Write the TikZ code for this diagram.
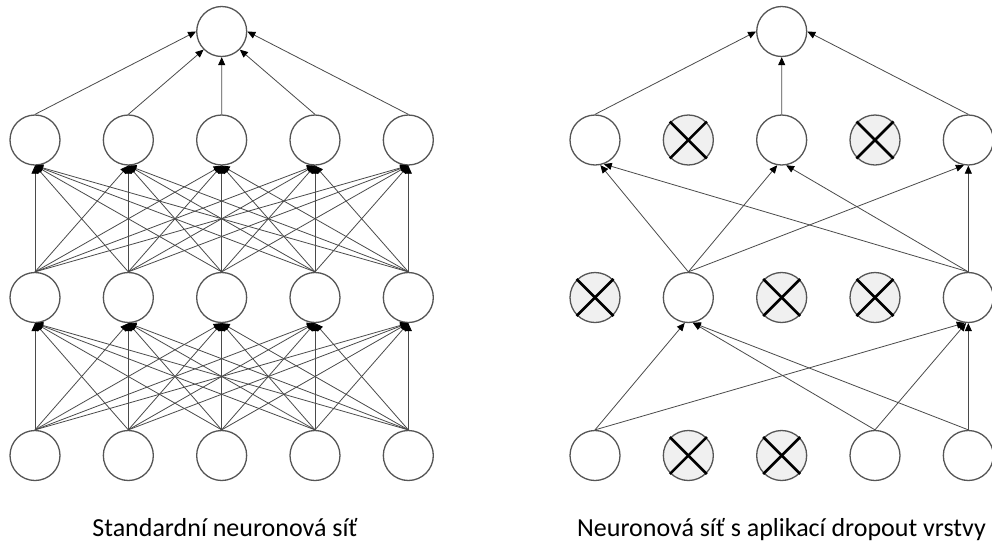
\documentclass[tikz,border=0pt]{standalone}
\usepackage{fontspec}
\setmainfont{Carlito}
\usetikzlibrary{arrows.meta}
\definecolor{edgegray}{HTML}{4A4A4A}
\definecolor{ringgray}{HTML}{555555}
\definecolor{dropfill}{HTML}{F0F0F0}
\tikzset{
  neuron/.style={circle, draw=ringgray, line width=1.3pt, fill=white, minimum size=50pt, inner sep=0pt},
  dropped/.style={neuron, fill=dropfill},
  conn/.style={draw=edgegray, line width=0.8pt, -{Triangle[length=8pt,width=7pt,color=black]}},
  cross/.style={black, line width=2.6pt},
  caption/.style={anchor=base, font=\fontsize{26}{30}\selectfont, inner sep=0pt}
}
\begin{document}
\begin{tikzpicture}[x=1pt,y=-1pt]
\useasboundingbox (0,0) rectangle (992,544);
% ---------- left network ----------
\node[neuron] (Lo) at (221.7,31.5) {};
\foreach \i in {1,...,5}{
  \pgfmathsetmacro{\cx}{35+93.33*(\i-1)}
  \node[neuron] (Lh2-\i) at (\cx,140) {};
  \node[neuron] (Lh1-\i) at (\cx,297.5) {};
  \node[neuron] (Li-\i) at (\cx,455.5) {};
}
\foreach \i in {1,...,5}{
  \foreach \j in {1,...,5}{
    \draw[conn] (Li-\i.north) -- (Lh1-\j.south);
    \draw[conn] (Lh1-\i.north) -- (Lh2-\j.south);
  }
}
\draw[conn] (Lh2-1.north) -- (Lo.west);
\draw[conn] (Lh2-2.north) -- (Lo.south west);
\draw[conn] (Lh2-3.north) -- (Lo.south);
\draw[conn] (Lh2-4.north) -- (Lo.south east);
\draw[conn] (Lh2-5.north) -- (Lo.east);
% ---------- right network ----------
\node[neuron] (Ro) at (781.7,31.5) {};
\foreach \i/\sa/\sb/\sc in {1/neuron/dropped/neuron, 2/dropped/neuron/dropped, 3/neuron/dropped/dropped, 4/dropped/dropped/neuron, 5/neuron/neuron/neuron}{
  \pgfmathsetmacro{\cx}{595+93.33*(\i-1)}
  \node[\sa] (Rh2-\i) at (\cx,140) {};
  \node[\sb] (Rh1-\i) at (\cx,297.5) {};
  \node[\sc] (Ri-\i) at (\cx,455.5) {};
}
% crosses on dropped neurons
\foreach \n in {Rh2-2,Rh2-4,Rh1-1,Rh1-3,Rh1-4,Ri-2,Ri-3}{
  \draw[cross] ([shift={(-18.5,-18.5)}]\n.center) -- ([shift={(18.5,18.5)}]\n.center);
  \draw[cross] ([shift={(-18.5,18.5)}]\n.center) -- ([shift={(18.5,-18.5)}]\n.center);
}
% input -> hidden 1
\draw[conn] (Ri-1.north) -- (Rh1-2.262);
\draw[conn] (Ri-4.north) -- (Rh1-2.280);
\draw[conn] (Ri-5.north) -- (Rh1-2.280);
\draw[conn] (Ri-1.north) -- (Rh1-5.262);
\draw[conn] (Ri-4.north) -- (Rh1-5.265);
\draw[conn] (Ri-5.north) -- (Rh1-5.south);
% hidden 1 -> hidden 2
\draw[conn] (Rh1-2.north) -- (Rh2-1.282);
\draw[conn] (Rh1-5.north) -- (Rh2-1.290);
\draw[conn] (Rh1-2.north) -- (Rh2-3.260);
\draw[conn] (Rh1-5.north) -- (Rh2-3.280);
\draw[conn] (Rh1-2.north) -- (Rh2-5.260);
\draw[conn] (Rh1-5.north) -- (Rh2-5.south);
% hidden 2 -> output
\draw[conn] (Rh2-1.north) -- (Ro.west);
\draw[conn] (Rh2-3.north) -- (Ro.south);
\draw[conn] (Rh2-5.north) -- (Ro.east);
% ---------- captions ----------
\node[caption] (capL) at (225,536) {Standardní neuronová síť};
\node[caption] (capR) at (781.5,536) {Neuronová síť s aplikací dropout vrstvy};
\end{tikzpicture}
\end{document}
